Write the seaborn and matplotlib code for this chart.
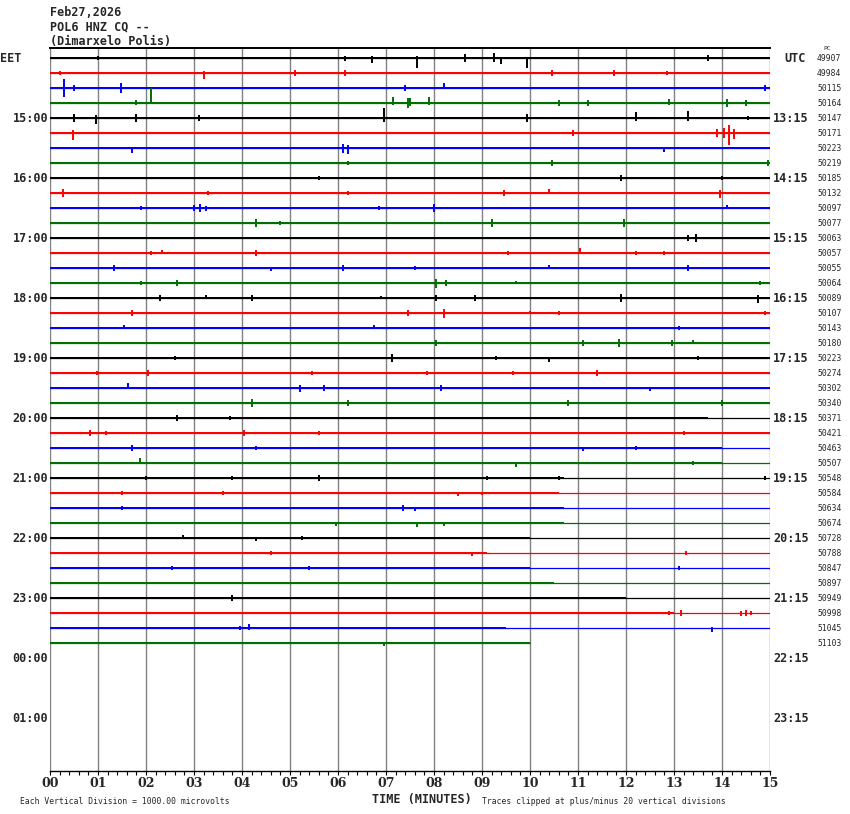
import matplotlib
matplotlib.use("Agg")
import matplotlib.pyplot as plt
import seaborn as sns
import numpy as np
import pandas as pd

title_lines = ["Feb27,2026", "POL6 HNZ CQ --", "(Dimarxelo Polis)"]
trace_colors = ["black", "#ff0000", "#0000ff", "#007000"]
n_traces = 40
trace_end = [15] * 39 + [10]          # minutes drawn in each 15-min row
trace_counts = [49907, 49984, 50115, 50164, 50147, 50171, 50223, 50219,
                50185, 50132, 50097, 50077, 50063, 50057, 50055, 50064,
                50089, 50107, 50143, 50180, 50223, 50274, 50302, 50340,
                50371, 50421, 50463, 50507, 50548, 50584, 50634, 50674,
                50728, 50788, 50847, 50897, 50949, 50998, 51045, 51103]
# background noise half-width (amplitude units, 15 per row) and where it dies out
noise_amp = [1.1] * 8 + [0.9] * 20 + [0.7] * 12
noise_until = [15] * 24 + [13.7, 15, 14, 14, 10.7, 10.6, 10.7, 10.7,
                           10.0, 9.1, 10.0, 10.5, 12.0, 13.0, 9.5, 10.0]
# (minute, amplitude up, amplitude down) for the visible bursts in each row
events = [
    [(1.0, 2, 2), (6.15, 2, 3), (6.7, 2, 5), (7.65, 2, 10), (8.65, 4, 4), (9.25, 5, 4),
     (9.4, 1, 6), (9.94, 1, 10), (13.7, 3, 3)],
    [(0.2, 2, 2), (3.2, 2, 6), (5.1, 3, 3), (6.15, 3, 3), (10.45, 3, 3), (11.75, 3, 3), (12.85, 2, 2)],
    [(0.3, 9, 9), (0.5, 3, 3), (1.48, 5, 5), (7.4, 3, 3), (8.2, 5, 1), (14.9, 3, 3)],
    [(1.8, 3, 2), (2.1, 15, 1), (7.15, 6, 2), (7.45, 5, 5), (7.5, 5, 3), (7.9, 6, 2), (10.6, 3, 3),
     (11.2, 3, 3), (12.9, 4, 2), (14.1, 4, 4), (14.5, 3, 3)],
    [(0.5, 4, 4), (0.95, 3, 6), (1.8, 4, 4), (3.1, 3, 3), (6.95, 10, 4), (9.94, 4, 4),
     (12.2, 6, 3), (13.3, 7, 3), (14.55, 2, 2)],
    [(0.47, 3, 7), (10.9, 3, 3), (13.9, 4, 4), (14.05, 5, 5), (14.15, 8, 12), (14.25, 4, 6)],
    [(1.7, 1, 5), (6.1, 4, 5), (6.2, 3, 6), (12.8, 1, 4)],
    [(6.2, 2, 2), (10.45, 3, 3), (14.95, 3, 3)],
    [(5.6, 2, 2), (11.9, 3, 3), (14.0, 2, 2)],
    [(0.27, 4, 4), (3.3, 2, 2), (6.2, 2, 2), (9.45, 3, 3), (10.4, 4, 1), (13.95, 3, 5)],
    [(1.9, 2, 2), (3.0, 3, 3), (3.12, 4, 4), (3.25, 2, 3), (6.85, 2, 2), (8.0, 4, 4), (14.1, 3, 1)],
    [(4.3, 4, 4), (4.8, 2, 2), (9.2, 4, 4), (11.95, 4, 4)],
    [(13.3, 3, 3), (13.45, 4, 4)],
    [(2.1, 2, 2), (2.33, 3, 1), (4.3, 3, 3), (9.55, 2, 2), (11.05, 5, 1), (12.2, 2, 2), (12.8, 2, 2)],
    [(1.33, 3, 3), (4.6, 1, 3), (6.1, 3, 3), (7.6, 2, 2), (10.4, 3, 1), (13.3, 3, 3)],
    [(1.9, 2, 2), (2.65, 3, 3), (8.05, 4, 5), (8.25, 3, 3), (9.7, 2, 1), (14.8, 2, 2)],
    [(2.3, 3, 3), (3.25, 3, 1), (4.2, 3, 3), (6.9, 2, 1), (8.05, 3, 3), (8.85, 3, 3),
     (11.9, 4, 4), (14.75, 3, 5)],
    [(1.7, 3, 3), (7.45, 3, 3), (8.2, 4, 5), (10.0, 2, 1), (10.6, 2, 2), (14.9, 2, 2)],
    [(1.55, 3, 1), (6.75, 3, 1), (13.1, 2, 2)],
    [(8.05, 3, 3), (11.1, 3, 3), (11.85, 4, 4), (12.95, 3, 3), (13.4, 3, 1)],
    [(2.6, 2, 2), (7.13, 4, 4), (9.3, 2, 2), (10.4, 1, 4), (13.5, 2, 2)],
    [(0.98, 2, 2), (2.05, 3, 3), (5.45, 2, 2), (7.85, 2, 2), (9.65, 2, 2), (11.4, 3, 3)],
    [(1.62, 5, 1), (5.2, 3, 4), (5.7, 3, 3), (8.15, 3, 3), (12.5, 1, 3)],
    [(4.2, 4, 4), (6.2, 3, 3), (10.8, 3, 3), (14.0, 3, 3)],
    [(2.65, 3, 3), (3.75, 2, 2)],
    [(0.83, 3, 3), (1.17, 2, 2), (4.05, 3, 3), (5.6, 2, 2), (13.2, 2, 2)],
    [(1.7, 3, 3), (4.3, 2, 2), (11.1, 1, 3), (12.2, 2, 2)],
    [(1.87, 5, 1), (9.7, 1, 4), (13.4, 2, 2)],
    [(2.0, 2, 2), (3.8, 2, 2), (5.6, 3, 3), (9.1, 2, 2), (10.6, 2, 2), (14.9, 2, 2)],
    [(1.5, 2, 2), (3.6, 2, 2), (8.5, 1, 3), (9.0, 1, 2)],
    [(1.5, 2, 2), (7.35, 3, 3), (7.6, 1, 3)],
    [(5.95, 1, 3), (7.65, 1, 4), (8.2, 1, 3)],
    [(2.77, 3, 1), (4.3, 1, 3), (5.25, 2, 2)],
    [(4.6, 2, 2), (8.8, 1, 3), (13.25, 2, 2)],
    [(2.55, 2, 2), (5.4, 2, 2), (13.1, 2, 2)],
    [],
    [(3.8, 3, 3)],
    [(12.9, 2, 2), (13.15, 3, 3), (14.4, 2, 3), (14.5, 3, 3), (14.6, 2, 2)],
    [(3.95, 2, 2), (4.15, 4, 2), (13.8, 1, 4)],
    [(6.95, 1, 3)],
]
eet_labels = ["15:00", "16:00", "17:00", "18:00", "19:00", "20:00",
              "21:00", "22:00", "23:00", "00:00", "01:00"]
utc_labels = ["13:15", "14:15", "15:15", "16:15", "17:15", "18:15",
              "19:15", "20:15", "21:15", "22:15", "23:15"]
minute_labels = [f"{m:02d}" for m in range(16)]

AMP_PER_ROW = 15.0
MONO = "DejaVu Sans Mono"

rows = []
for i in range(n_traces):
    rows.append({"trace": i, "minute": 0.0, "row": i})
    rows.append({"trace": i, "minute": trace_end[i], "row": i})
df = pd.DataFrame(rows)
palette = [trace_colors[i % 4] for i in range(n_traces)]

sns.set_style("white")
fig = plt.figure(figsize=(8.5, 8.14), dpi=100)
ax = fig.add_axes([50 / 850, 43 / 814, 720 / 850, 723 / 814])

# minute grid
for m in range(16):
    ax.axvline(m, color="#808080", lw=1.0, zorder=0)

sns.lineplot(data=df, x="minute", y="row", hue="trace", palette=palette,
             estimator=None, sort=False, legend=False, lw=0.9, ax=ax, zorder=2)

for i in range(n_traces):
    c = palette[i]
    a = noise_amp[i] / AMP_PER_ROW
    xe = min(noise_until[i], trace_end[i])
    ax.fill_between([0, xe], [i - a, i - a], [i + a, i + a], color=c, lw=0, zorder=2)
    if events[i]:
        ev = np.array(events[i], dtype=float)
        ax.vlines(ev[:, 0], i - ev[:, 1] / AMP_PER_ROW, i + ev[:, 2] / AMP_PER_ROW,
                  color=c, lw=1.4, zorder=3)

ax.set_xlim(0, 15)
ax.set_ylim(47.53, -0.667)
ax.set_xlabel("")
ax.set_ylabel("")
ax.set_yticks([])
for s in ["left", "right"]:
    ax.spines[s].set_visible(False)
ax.spines["top"].set_color("black")
ax.spines["top"].set_linewidth(1.4)
ax.spines["bottom"].set_color("black")
ax.spines["bottom"].set_linewidth(1.0)

ax.set_xticks(range(16))
ax.set_xticklabels(minute_labels, fontsize=9, fontweight="bold", family="DejaVu Serif")
ax.set_xticks(np.arange(0, 15.01, 0.2), minor=True)
ax.tick_params(axis="x", which="both", direction="out", length=3, width=0.8,
               color="black", bottom=True, pad=1.5)

# hour labels either side
for k in range(len(eet_labels)):
    r = 4 * (k + 1)
    ax.text(-0.04, r, eet_labels[k], ha="right", va="center", fontsize=8.5,
            fontweight="bold", family=MONO, clip_on=False)
    ax.text(15.06, r, utc_labels[k], ha="left", va="center", fontsize=8.5,
            fontweight="bold", family=MONO, clip_on=False)
ax.text(-1.04, 0, "EET", ha="left", va="center", fontsize=8.5, fontweight="bold",
        family=MONO, clip_on=False)
ax.text(15.3, 0, "UTC", ha="left", va="center", fontsize=8.5, fontweight="bold",
        family=MONO, clip_on=False)

for i in range(n_traces):
    ax.text(15.98, i, str(trace_counts[i]), ha="left", va="center", fontsize=5.8,
            family=MONO, clip_on=False)
ax.text(16.12, -0.62, "PC", ha="left", va="center", fontsize=4.5, family=MONO, clip_on=False)

# header and footer
for k, line in enumerate(title_lines):
    fig.text(50 / 850, 1 - (12 + 15 * k) / 814, line, ha="left", va="center",
             fontsize=8.5, fontweight="bold", family=MONO)
fig.text(422 / 850, 1 - 799 / 814, "TIME (MINUTES)", ha="center", va="center",
         fontsize=8.5, fontweight="bold", family=MONO)
fig.text(20 / 850, 1 - 801 / 814, "Each Vertical Division = 1000.00 microvolts",
         ha="left", va="center", fontsize=5.8, family=MONO)
fig.text(482 / 850, 1 - 801 / 814, "Traces clipped at plus/minus 20 vertical divisions",
         ha="left", va="center", fontsize=5.8, family=MONO)

fig.savefig("out.png", dpi=100, facecolor="white")
